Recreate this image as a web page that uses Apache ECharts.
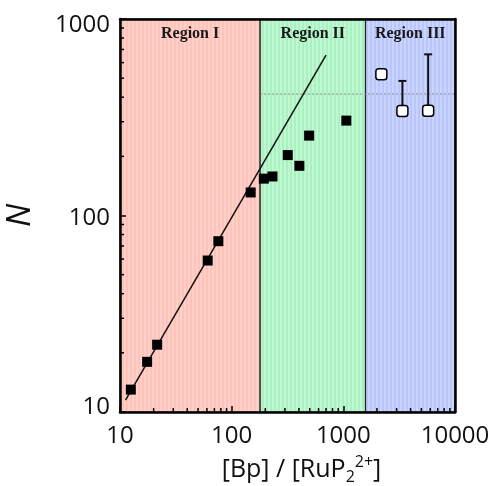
<!DOCTYPE html>
<html>
<head>
<meta charset="utf-8">
<script src="https://cdn.jsdelivr.net/npm/echarts@6/dist/echarts.min.js"></script>
<style>
  html, body { margin: 0; padding: 0; background: #fff; }
  #chart { width: 493px; height: 486px; }
</style>
</head>
<body>
<div id="chart"></div>
<script>
// Bp:RuP2 ratio vs. number of units N, log-log
const ratioFilled = [12.5, 17.5, 21.5, 61, 76, 148, 194, 232, 318, 404, 494, 1064];
const nFilled     = [13,   18,   22,   59, 74, 131, 154, 158, 203, 179, 255, 304];

const ratioOpen = [2190, 3380, 5750];
const nOpen     = [523,  340,  341];
const nOpenUpper = [null, 484, 661];

// linear (slope ~1) fit through Region I
const fitRatio = [11.2, 700];
const fitN     = [11.5, 655];

// plateau level
const plateauRatio = [180, 10000];
const plateauN = 415;

// region borders along the ratio axis
const regionEdges = [10, 180, 1580, 10000];
const regionNames = ['Region I', 'Region II', 'Region III'];
const regionColors = [['#ffd0ca', '#ffc3ba'], ['#bff8d1', '#a9f1c0'], ['#cad4ff', '#b9c6fc']];

const xTicks = ['10', '100', '1000', '10000'];
const yTicks = ['10', '100', '1000'];

function stripes(c) {
  const cv = document.createElement('canvas');
  cv.width = 4; cv.height = 4;
  const g = cv.getContext('2d');
  g.fillStyle = c[0]; g.fillRect(0, 0, 2, 4);
  g.fillStyle = c[1]; g.fillRect(2, 0, 2, 4);
  return { image: cv, repeat: 'repeat' };
}

// minor tick values for each decade
function minorValues(lo, hi) {
  const out = [];
  for (let d = lo; d < hi; d *= 10) {
    for (let k = 2; k <= 9; k++) out.push(d * k);
  }
  return out;
}
const xMinor = minorValues(10, 10000);
const yMinor = minorValues(10, 1000);

const chart = echarts.init(document.getElementById('chart'));
const ink = '#111';
const labelFont = { fontFamily: 'Open Sans', fontSize: 24, color: ink };

chart.setOption({
  animation: false,
  backgroundColor: '#fff',
  grid: { left: 120, right: 38, top: 19, bottom: 74, outerBoundsMode: 'none', containLabel: false },
  xAxis: [{
    type: 'log', logBase: 10, min: 10, max: 10000, splitNumber: 3, z: 10,
    axisLine: { show: true, lineStyle: { color: '#000', width: 2.5 } },
    axisTick: { show: true, inside: true, length: 6, lineStyle: { color: '#000', width: 1.5 } },
    splitLine: { show: false },
    axisLabel: Object.assign({ margin: 12, formatter: v => xTicks[Math.round(Math.log10(v)) - 1] }, labelFont),
    name: '{m|[Bp] / [RuP}{sub|2}{sup|2+}{m|]}',
    nameLocation: 'middle', nameGap: 40,
    nameTextStyle: {
      padding: [0, 0, 0, 28],
      rich: {
        m: { fontFamily: 'Open Sans', fontSize: 25, color: ink, lineHeight: 34, verticalAlign: 'middle' },
        sub: { fontFamily: 'Open Sans', fontSize: 16, color: ink, lineHeight: 34, verticalAlign: 'bottom', padding: [0, 0, 1, 0] },
        sup: { fontFamily: 'Open Sans', fontSize: 16, color: ink, lineHeight: 34, verticalAlign: 'top', padding: [2, 0, 0, 0] }
      }
    }
  }, {
    type: 'log', logBase: 10, min: 10, max: 10000, position: 'top', z: 10,
    axisLine: { show: true, onZero: false, lineStyle: { color: '#000', width: 2.5 } },
    axisTick: { show: false }, axisLabel: { show: false }, splitLine: { show: false }
  }],
  yAxis: [{
    type: 'log', logBase: 10, min: 10, max: 1000, splitNumber: 2, z: 10,
    axisLine: { show: true, lineStyle: { color: '#000', width: 2.5 } },
    axisTick: { show: true, inside: true, length: 6, lineStyle: { color: '#000', width: 1.5 } },
    splitLine: { show: false },
    axisLabel: Object.assign({
      margin: 10,
      formatter: v => {
        const t = yTicks[Math.round(Math.log10(v)) - 1];
        if (t === '10') return '{lo|' + t + '}';
        if (t === '1000') return '{hi|' + t + '}';
        return '{mid|' + t + '}';
      },
      rich: {
        lo: Object.assign({ padding: [0, 0, 10, 0] }, labelFont),
        hi: Object.assign({ padding: [12, 0, 0, 0] }, labelFont),
        mid: Object.assign({ padding: [6, 0, 0, 0] }, labelFont)
      }
    }, labelFont),
    name: 'N', nameLocation: 'middle', nameGap: 83,
    nameTextStyle: { fontFamily: 'Open Sans', fontSize: 33, fontStyle: 'italic', color: ink }
  }, {
    type: 'log', logBase: 10, min: 10, max: 1000, position: 'right', z: 10,
    axisLine: { show: true, onZero: false, lineStyle: { color: '#000', width: 2.5 } },
    axisTick: { show: false }, axisLabel: { show: false }, splitLine: { show: false }
  }],
  series: [
    {
      // shaded regions
      type: 'line', data: [], z: 1,
      markArea: {
        silent: true,
        data: regionNames.map((name, i) => [
          { name: name, xAxis: regionEdges[i], yAxis: 10,
            itemStyle: { color: stripes(regionColors[i]), borderColor: '#222', borderWidth: 1.2 } },
          { xAxis: regionEdges[i + 1], yAxis: 1000 }
        ]),
        label: {
          show: true, position: 'insideTop', distance: 7,
          fontFamily: 'Liberation Serif', fontWeight: 'bold', fontSize: 16, color: '#1a1a1a'
        }
      }
    },
    {
      // minor ticks on both axes
      type: 'custom', z: 9, silent: true,
      data: xMinor.map(v => [v, 10, 0]).concat(yMinor.map(v => [10, v, 1])),
      renderItem: (params, api) => {
        const p = api.coord([api.value(0), api.value(1)]);
        const vertical = api.value(2) === 0;
        return {
          type: 'line',
          shape: vertical
            ? { x1: p[0], y1: p[1], x2: p[0], y2: p[1] - 4 }
            : { x1: p[0], y1: p[1], x2: p[0] + 4, y2: p[1] },
          style: { stroke: '#000', lineWidth: 1.5 }
        };
      }
    },
    {
      // plateau level
      type: 'line', z: 3, symbol: 'none', silent: true,
      data: plateauRatio.map(x => [x, plateauN]),
      lineStyle: { color: '#8a8a8a', width: 1, type: [2, 2] }
    },
    {
      // fit line
      type: 'line', z: 4, symbol: 'none', silent: true,
      data: fitRatio.map((x, i) => [x, fitN[i]]),
      lineStyle: { color: '#111', width: 1.5 }
    },
    {
      // upper error bars
      type: 'custom', z: 5, silent: true,
      data: ratioOpen.map((x, i) => [x, nOpen[i], nOpenUpper[i]]).filter(d => d[2] != null),
      renderItem: (params, api) => {
        const p0 = api.coord([api.value(0), api.value(1)]);
        const p1 = api.coord([api.value(0), api.value(2)]);
        const st = { stroke: '#111', lineWidth: 2 };
        return {
          type: 'group',
          children: [
            { type: 'line', shape: { x1: p0[0], y1: p0[1], x2: p1[0], y2: p1[1] }, style: st },
            { type: 'line', shape: { x1: p1[0] - 4, y1: p1[1], x2: p1[0] + 4, y2: p1[1] }, style: st }
          ]
        };
      }
    },
    {
      type: 'scatter', z: 6,
      data: ratioFilled.map((x, i) => [x, nFilled[i]]),
      symbol: 'rect', symbolSize: 10,
      itemStyle: { color: '#000', opacity: 1 }
    },
    {
      type: 'scatter', z: 6,
      data: ratioOpen.map((x, i) => [x, nOpen[i]]),
      symbol: 'roundRect', symbolSize: 11,
      itemStyle: { color: '#fff', borderColor: '#000', borderWidth: 1.5, opacity: 1 }
    }
  ]
});
</script>
</body>
</html>
